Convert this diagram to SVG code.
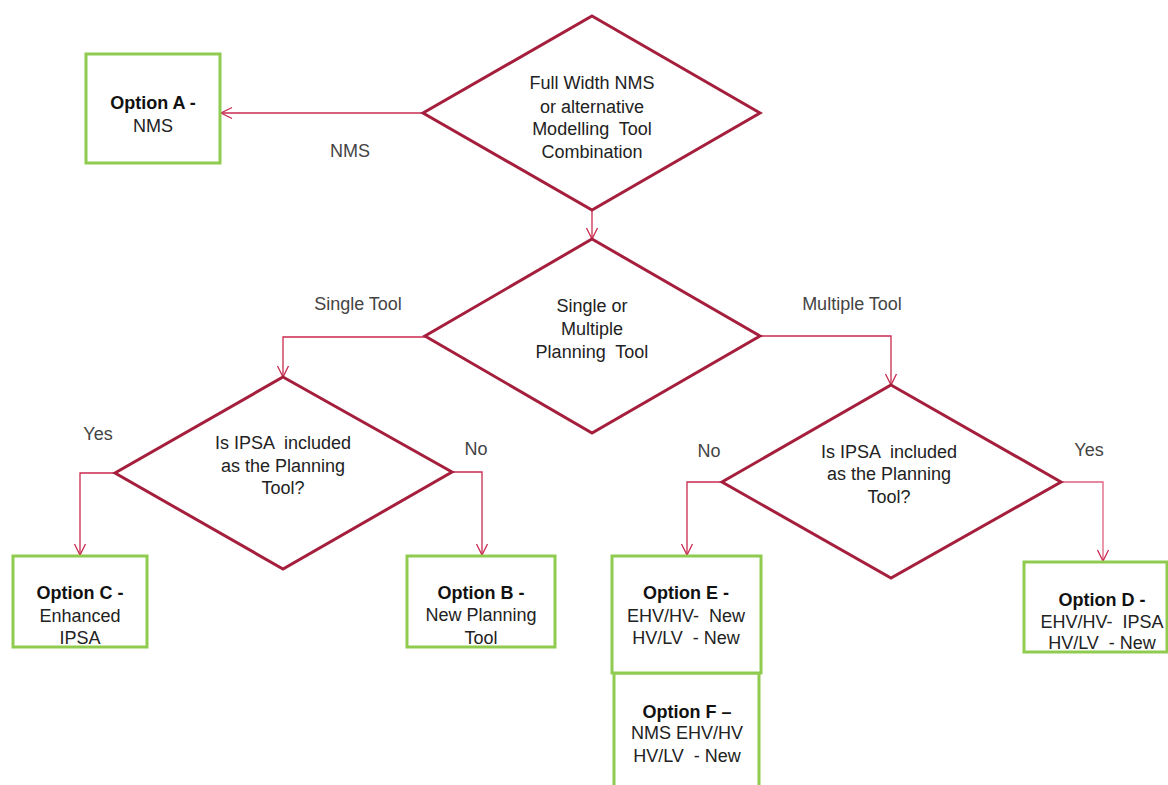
<svg xmlns="http://www.w3.org/2000/svg" width="1168" height="785" viewBox="0 0 1168 785">
<style>
.dia{fill:#fff;stroke:#a51f3d;stroke-width:3;stroke-linejoin:miter}
.box{fill:#fff;stroke:#8fcb4f;stroke-width:3}
.con{fill:none;stroke:#c92a4f;stroke-width:1.3}
.t{font-family:"Liberation Sans",Arial,sans-serif;font-size:18px;fill:#222;text-anchor:middle;white-space:pre}
.b{font-weight:bold;fill:#111}
.lbl{font-family:"Liberation Sans",Arial,sans-serif;font-size:18px;fill:#444;text-anchor:middle}
</style>
<defs>
<marker id="arr" markerUnits="userSpaceOnUse" markerWidth="14" markerHeight="14" viewBox="0 0 14 14" refX="12" refY="7" orient="auto">
<path d="M1,1.5 L12,7 L1,12.5" fill="none" stroke="#c92a4f" stroke-width="1.3"/>
</marker>
</defs>
<rect width="1168" height="785" fill="#fff"/>
<g id="connectors">
<path class="con" d="M423,113 H221" marker-end="url(#arr)"/>
<path class="con" d="M592,210 V239" marker-end="url(#arr)"/>
<path class="con" d="M425,337 H283 V377" marker-end="url(#arr)"/>
<path class="con" d="M760,336 H891 V385" marker-end="url(#arr)"/>
<path class="con" d="M115,473 H80 V555" marker-end="url(#arr)"/>
<path class="con" d="M452,472 H482 V555" marker-end="url(#arr)"/>
<path class="con" d="M722,482 H687 V555" marker-end="url(#arr)"/>
<path class="con" d="M1061,482 H1103 V561" marker-end="url(#arr)" style="stroke:#e0607e"/>
<text class="lbl" x="350" y="157">NMS</text>
<text class="lbl" x="358" y="310">Single Tool</text>
<text class="lbl" x="852" y="310">Multiple Tool</text>
<text class="lbl" x="98" y="440">Yes</text>
<text class="lbl" x="476" y="455">No</text>
<text class="lbl" x="709" y="457">No</text>
<text class="lbl" x="1089" y="456">Yes</text>
</g>
<g id="d1">
<polygon class="dia" points="592,16 760,113 592,210 423,113"/>
<text class="t" x="592" y="89">Full Width NMS</text>
<text class="t" x="592" y="113">or alternative</text>
<text class="t" x="592" y="135">Modelling  Tool</text>
<text class="t" x="592" y="158">Combination</text>
</g>
<g id="d2">
<polygon class="dia" points="592,239 760,336 592,433 425,336"/>
<text class="t" x="592" y="312">Single or</text>
<text class="t" x="592" y="335">Multiple</text>
<text class="t" x="592" y="358">Planning  Tool</text>
</g>
<g id="d3">
<polygon class="dia" points="283,377 452,472 283,569 115,473"/>
<text class="t" x="283" y="449">Is IPSA  included</text>
<text class="t" x="283" y="472">as the Planning</text>
<text class="t" x="283" y="494">Tool?</text>
</g>
<g id="d4">
<polygon class="dia" points="891,385 1061,482 891,578 722,482"/>
<text class="t" x="889" y="458">Is IPSA  included</text>
<text class="t" x="889" y="480">as the Planning</text>
<text class="t" x="889" y="503">Tool?</text>
</g>
<g id="optA">
<rect class="box" x="86" y="54" width="134" height="109"/>
<text class="t b" x="153" y="109">Option A -</text>
<text class="t" x="153" y="132">NMS</text>
</g>
<g id="optC">
<rect class="box" x="13" y="556" width="134" height="91"/>
<text class="t b" x="80" y="599">Option C -</text>
<text class="t" x="80" y="622">Enhanced</text>
<text class="t" x="80" y="644">IPSA</text>
</g>
<g id="optB">
<rect class="box" x="407" y="556" width="148" height="91"/>
<text class="t b" x="481" y="599">Option B -</text>
<text class="t" x="481" y="621">New Planning</text>
<text class="t" x="481" y="644">Tool</text>
</g>
<g id="optF">
<rect class="box" x="614" y="673" width="145" height="130"/>
<text class="t b" x="687" y="718">Option F –</text>
<text class="t" x="687" y="739">NMS EHV/HV</text>
<text class="t" x="687" y="762">HV/LV  - New</text>
</g>
<g id="optE">
<rect class="box" x="612" y="556" width="149" height="117"/>
<text class="t b" x="686" y="599">Option E -</text>
<text class="t" x="686" y="622">EHV/HV-  New</text>
<text class="t" x="686" y="644">HV/LV  - New</text>
</g>
<g id="optD">
<rect class="box" x="1024" y="562" width="143" height="90"/>
<text class="t b" x="1102" y="606">Option D -</text>
<text class="t" x="1102" y="628">EHV/HV-  IPSA</text>
<text class="t" x="1102" y="649">HV/LV  - New</text>
</g>
</svg>
